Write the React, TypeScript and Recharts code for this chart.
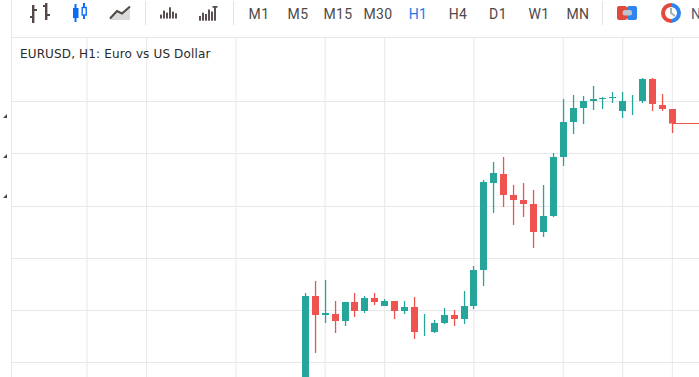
import { Bar, CartesianGrid, ComposedChart, ReferenceLine, XAxis, YAxis } from 'recharts'

// values are in chart points, counted up from the bottom edge of the picture
const opens = [0, 81, 62, 63, 56, 75, 66, 79, 71, 76, 66, 70, 52, 45, 54, 62, 58, 71, 107, 194, 203, 182, 177, 173, 145, 161, 220, 255, 269, 276, 278, 279, 266, 262, 276, 298, 272, 268]
const highs = [84, 96, 97, 76, 75, 84, 81, 84, 78, 76, 76, 80, 63, 57, 69, 67, 86, 111, 197, 215, 220, 192, 194, 187, 192, 224, 278, 282, 281, 291, 280, 285, 285, 282, 299, 299, 283, 268]
const lows = [0, 24, 54, 44, 51, 60, 64, 72, 71, 58, 63, 38, 41, 44, 53, 51, 53, 68, 91, 164, 170, 152, 160, 129, 140, 160, 211, 243, 253, 267, 268, 274, 259, 262, 274, 266, 266, 244]
const closes = [81, 62, 64, 56, 75, 66, 79, 75, 76, 66, 70, 45, 52, 54, 62, 58, 71, 107, 195, 204, 182, 177, 173, 145, 161, 220, 255, 269, 276, 278, 279, 280, 276, 262, 298, 273, 268, 253.5]

const gridPrices = [14.5, 66.5, 118.5, 170.5, 223.5, 275.5, 327.5]
const gridBars = [-22, -16, -7, 2, 8, 17, 26, 32, 37]

const periods = ['M1', 'M5', 'M15', 'M30', 'H1', 'H4', 'D1', 'W1', 'MN']
const periodCenters = [259, 298, 338, 378, 418, 458, 498, 539, 578]

const UP = '#26a69a'
const DOWN = '#ef5350'
const BAR_LAST = 39.69

const candles = opens.map((open, i) => ({
  bar: i,
  open,
  close: closes[i],
  range: [lows[i], highs[i]],
}))

function Candle(props: any) {
  const { x, y, width, height, payload } = props
  const [low, high] = payload.range
  const perPoint = height / (high - low || 1)
  const toY = (v: number) => y + (high - v) * perPoint
  const cx = Math.floor(x + width / 2)
  const color = payload.close >= payload.open ? UP : DOWN
  const top = toY(Math.max(payload.open, payload.close))
  const bottom = toY(Math.min(payload.open, payload.close))
  return (
    <g>
      <rect x={cx - 0.1} y={y} width={1.3} height={height} fill={color} />
      <rect x={cx - 3} y={top} width={7} height={bottom - top} fill={color} />
    </g>
  )
}

function Toolbar() {
  return (
    <svg width={699} height={37} style={{ position: 'absolute', left: 0, top: 0 }}>
      {[145, 233, 602].map(x => (
        <line key={x} x1={x + 0.5} x2={x + 0.5} y1={1} y2={25} stroke="#e4e4e4" />
      ))}

      <g fill="#524848">
        <rect x={32} y={5} width={2.4} height={18} />
        <rect x={30} y={16} width={2} height={2} />
        <rect x={34} y={9} width={3} height={2} />
        <rect x={45} y={3} width={2.4} height={17} />
        <rect x={43} y={5} width={2} height={2} />
        <rect x={47} y={14} width={3} height={2} />
      </g>

      <g fill="#0a6cf5">
        <rect x={74.5} y={4} width={2} height={18} />
        <rect x={73} y={8} width={5.5} height={10} />
        <rect x={83} y={3} width={2} height={16} />
        <rect x={82.2} y={7.5} width={4} height={7.5} fill="#fff" stroke="#0a6cf5" strokeWidth={1.4} />
      </g>

      <path d="M110 20 V18 L117 10 L122 13 L130 6 V20 Z" fill="#dcdada" />
      <path d="M110 18.5 L117 11 L122 13.5 L130 6.5" fill="none" stroke="#524848" strokeWidth={2} />

      <g fill="#5a5050">
        {[
          [160, 14.6, 2], [163, 10.6, 2], [166, 12.6, 2], [169, 7.3, 2], [172, 11.6, 2], [175, 13.3, 2],
          [199, 16, 2], [202, 12.7, 2], [205, 14, 2], [208, 9.5, 2], [211, 11.5, 2], [214, 7, 2],
        ].map(([x, y, w]) => (
          <rect key={x} x={x} y={y} width={w} height={(x < 190 ? 18.5 : 20.7) - y} />
        ))}
        <rect x={212.5} y={6} width={5} height={1.8} />
      </g>

      <rect x={617} y={6} width={10} height={14} rx={2} fill="#e0493c" />
      <rect x={627} y={6} width={10} height={14} rx={2} fill="#2f85ee" />
      <rect x={622.7} y={10} width={9.3} height={5.6} rx={2} fill="#bcc3ca" />

      <path d="M671 5 A8 8 0 0 0 671 21" fill="none" stroke="#e0493c" strokeWidth={4} />
      <path d="M671 5 A8 8 0 0 1 671 21" fill="none" stroke="#2f85ee" strokeWidth={4} />
      <path d="M671 8 V13 L675 16" fill="none" stroke="#a9adb2" strokeWidth={2} />

      {periods.map((label, i) => (
        <text
          key={label}
          x={periodCenters[i]}
          y={19}
          textAnchor="middle"
          fontFamily="Roboto, sans-serif"
          fontSize={14}
          letterSpacing={0.4}
          fill={label === 'H1' ? '#1a7be8' : '#4f4848'}
        >
          {label}
        </text>
      ))}
      <text x={691} y={19} fontFamily="Roboto, sans-serif" fontSize={14} fill="#4a5a78">N</text>
    </svg>
  )
}

export default function App() {
  return (
    <div style={{ position: 'absolute', left: 0, top: 0, width: 699, height: 377, overflow: 'hidden', background: '#fff' }}>
      <Toolbar />
      <ComposedChart
        width={699}
        height={377}
        data={candles}
        margin={{ top: 37, right: 0, bottom: 0, left: 12 }}
        style={{ position: 'absolute', left: 0, top: 0 }}
      >
        <CartesianGrid
          stroke="#e8e8e8"
          horizontalValues={[...gridPrices, 339.5]}
          verticalValues={gridBars}
        />
        <XAxis
          dataKey="bar"
          type="number"
          domain={[-29.57, BAR_LAST]}
          allowDataOverflow
          ticks={gridBars}
          hide
        />
        <YAxis type="number" domain={[0, 340]} allowDataOverflow ticks={gridPrices} hide />
        <ReferenceLine
          segment={[
            { x: 37, y: closes[37] },
            { x: BAR_LAST, y: closes[37] },
          ]}
          stroke={DOWN}
          ifOverflow="hidden"
        />
        <Bar dataKey="range" barSize={8} shape={<Candle />} isAnimationActive={false} />
      </ComposedChart>
      <div
        style={{
          position: 'absolute',
          left: 20,
          top: 47,
          fontFamily: '"DejaVu Sans", sans-serif',
          fontSize: 12,
          letterSpacing: 0.14,
          color: '#2a2a2a',
          whiteSpace: 'nowrap',
        }}
      >
        EURUSD, H1: Euro vs US Dollar
      </div>
      <svg width={12} height={377} style={{ position: 'absolute', left: 0, top: 0 }}>
        <line x1={11.5} x2={11.5} y1={0} y2={377} stroke="#e8e8e8" />
        {[116, 156, 196].map(y => (
          <polygon key={y} points={`${3},${y + 2} ${7},${y + 2} ${7},${y - 2}`} fill="#4a4444" />
        ))}
      </svg>
    </div>
  )
}
